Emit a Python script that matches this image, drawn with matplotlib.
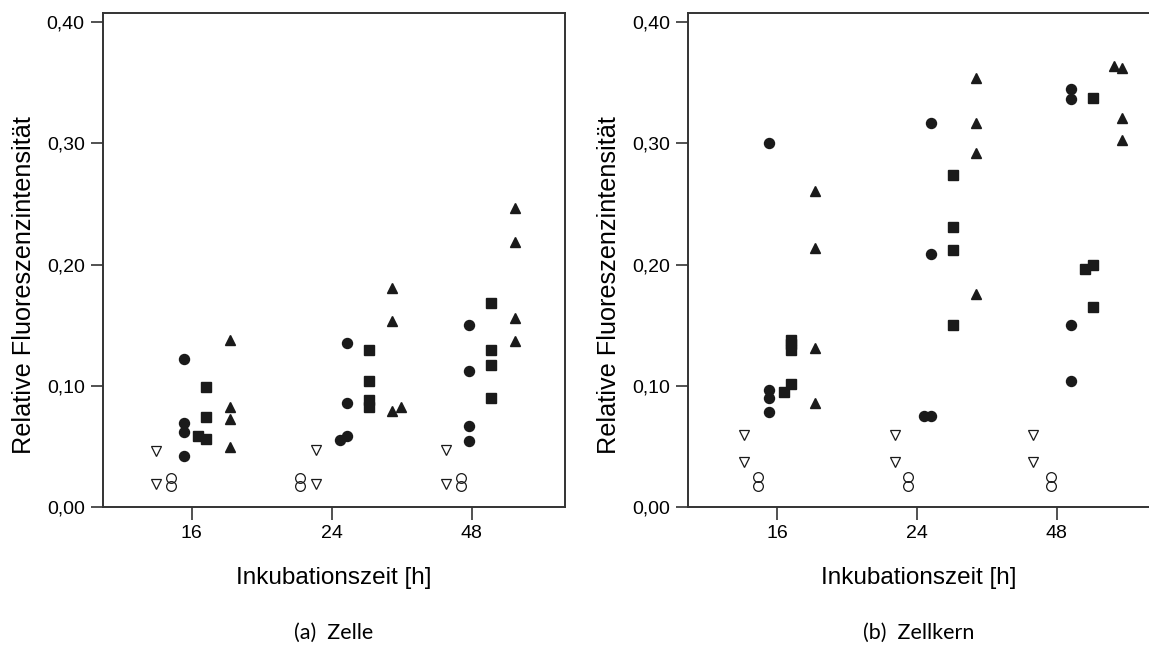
import matplotlib.pyplot as plt
from matplotlib.ticker import FuncFormatter

# x positions: 0 = 16 h, 1 = 24 h, 2 = 48 h (points spread around each time)
times = ["16", "24", "48"]
yticks = [0.0, 0.1, 0.2, 0.3, 0.4]

# (a) Zelle
a_open_tri_x = [-0.257, -0.257, 0.886, 0.886, 1.814, 1.814]
a_open_tri_y = [0.046, 0.019, 0.047, 0.019, 0.047, 0.019]
a_open_circ_x = [-0.15, -0.15, 0.774, 0.774, 1.921, 1.921]
a_open_circ_y = [0.0168, 0.0238, 0.0168, 0.0238, 0.0168, 0.0238]
a_circ_x = [-0.053, -0.053, -0.053, -0.053, 1.109, 1.109, 1.109, 1.057,
            1.981, 1.981, 1.981, 1.981]
a_circ_y = [0.122, 0.069, 0.0615, 0.042, 0.135, 0.086, 0.058, 0.055,
            0.150, 0.112, 0.067, 0.054]
a_sq_x = [0.102, 0.102, 0.102, 0.047, 1.266, 1.266, 1.266, 1.266,
          2.141, 2.141, 2.141, 2.141]
a_sq_y = [0.099, 0.074, 0.056, 0.058, 0.129, 0.104, 0.088, 0.082,
          0.168, 0.129, 0.117, 0.090]
a_tri_x = [0.274, 0.274, 0.274, 0.274, 1.434, 1.434, 1.434, 1.493,
           2.307, 2.307, 2.307, 2.307]
a_tri_y = [0.138, 0.082, 0.072, 0.049, 0.181, 0.153, 0.079, 0.082,
           0.247, 0.219, 0.156, 0.137]

# (b) Zellkern
b_open_tri_x = [-0.234, -0.234, 0.841, 0.841, 1.826, 1.826]
b_open_tri_y = [0.059, 0.037, 0.059, 0.037, 0.059, 0.037]
b_open_circ_x = [-0.136, -0.136, 0.938, 0.938, 1.957, 1.957]
b_open_circ_y = [0.0172, 0.0242, 0.0172, 0.0242, 0.0172, 0.0242]
b_circ_x = [-0.055, -0.055, -0.055, -0.055, 1.048, 1.1, 1.1, 1.1,
            2.1, 2.1, 2.1, 2.1]
b_circ_y = [0.300, 0.096, 0.090, 0.0785, 0.075, 0.317, 0.209, 0.075,
            0.345, 0.337, 0.150, 0.104]
b_sq_x = [0.102, 0.102, 0.102, 0.102, 0.047, 1.255, 1.255, 1.255, 1.255,
          2.259, 2.259, 2.259, 2.202]
b_sq_y = [0.138, 0.134, 0.1295, 0.101, 0.095, 0.274, 0.231, 0.212, 0.150,
          0.3375, 0.165, 0.200, 0.196]
b_tri_x = [0.269, 0.269, 0.269, 0.269, 1.424, 1.424, 1.424, 1.424,
           2.464, 2.464, 2.464, 2.409]
b_tri_y = [0.261, 0.214, 0.131, 0.086, 0.354, 0.317, 0.292, 0.176,
           0.362, 0.321, 0.303, 0.364]

panels = [
    ("(a)  Zelle", a_open_tri_x, a_open_tri_y, a_open_circ_x, a_open_circ_y,
     a_circ_x, a_circ_y, a_sq_x, a_sq_y, a_tri_x, a_tri_y),
    ("(b)  Zellkern", b_open_tri_x, b_open_tri_y, b_open_circ_x, b_open_circ_y,
     b_circ_x, b_circ_y, b_sq_x, b_sq_y, b_tri_x, b_tri_y),
]

plt.rcParams['font.family'] = ['Liberation Sans', 'DejaVu Sans']
ink = '#1a1a1a'

fig = plt.figure(figsize=(11.49, 6.5), dpi=100)
lefts = [0.0894, 0.5988]

for left, p in zip(lefts, panels):
    cap, otx, oty, ocx, ocy, cx, cy, sx, sy, tx, ty = p
    ax = fig.add_axes([left, 0.2205, 0.4023, 0.760])
    ax.plot(otx, oty, 'v', ms=6.5, mfc='white', mec=ink, mew=0.9, ls='none')
    ax.plot(ocx, ocy, 'o', ms=7, mfc='none', mec=ink, mew=0.9, ls='none')
    ax.plot(cx, cy, 'o', ms=7.2, color=ink, ls='none')
    ax.plot(sx, sy, 's', ms=6.8, color=ink, ls='none')
    ax.plot(tx, ty, '^', ms=7.8, color=ink, ls='none')

    ax.set_xlim(-0.636, 2.667)
    ax.set_ylim(0, 0.408)
    ax.set_xticks(range(len(times)))
    ax.set_xticklabels(times)
    ax.set_yticks(yticks)
    ax.yaxis.set_major_formatter(FuncFormatter(lambda v, pos: f"{v:.2f}".replace('.', ',')))
    ax.tick_params(direction='out', length=9, width=1.2, color='#333333',
                   labelsize=14, pad=4)
    for s in ax.spines.values():
        s.set_color('#333333')
        s.set_linewidth(1.4)
    ax.set_xlabel('Inkubationszeit [h]', fontsize=17.5, labelpad=18)
    ax.set_ylabel('Relative Fluoreszenzintensität', fontsize=18.2, labelpad=8, y=0.449)
    ax.text(0.5, -0.255, cap, transform=ax.transAxes, ha='center', va='center',
            fontsize=15.5, family=['Lato', 'DejaVu Sans'])

fig.savefig('out.png', dpi=100)
